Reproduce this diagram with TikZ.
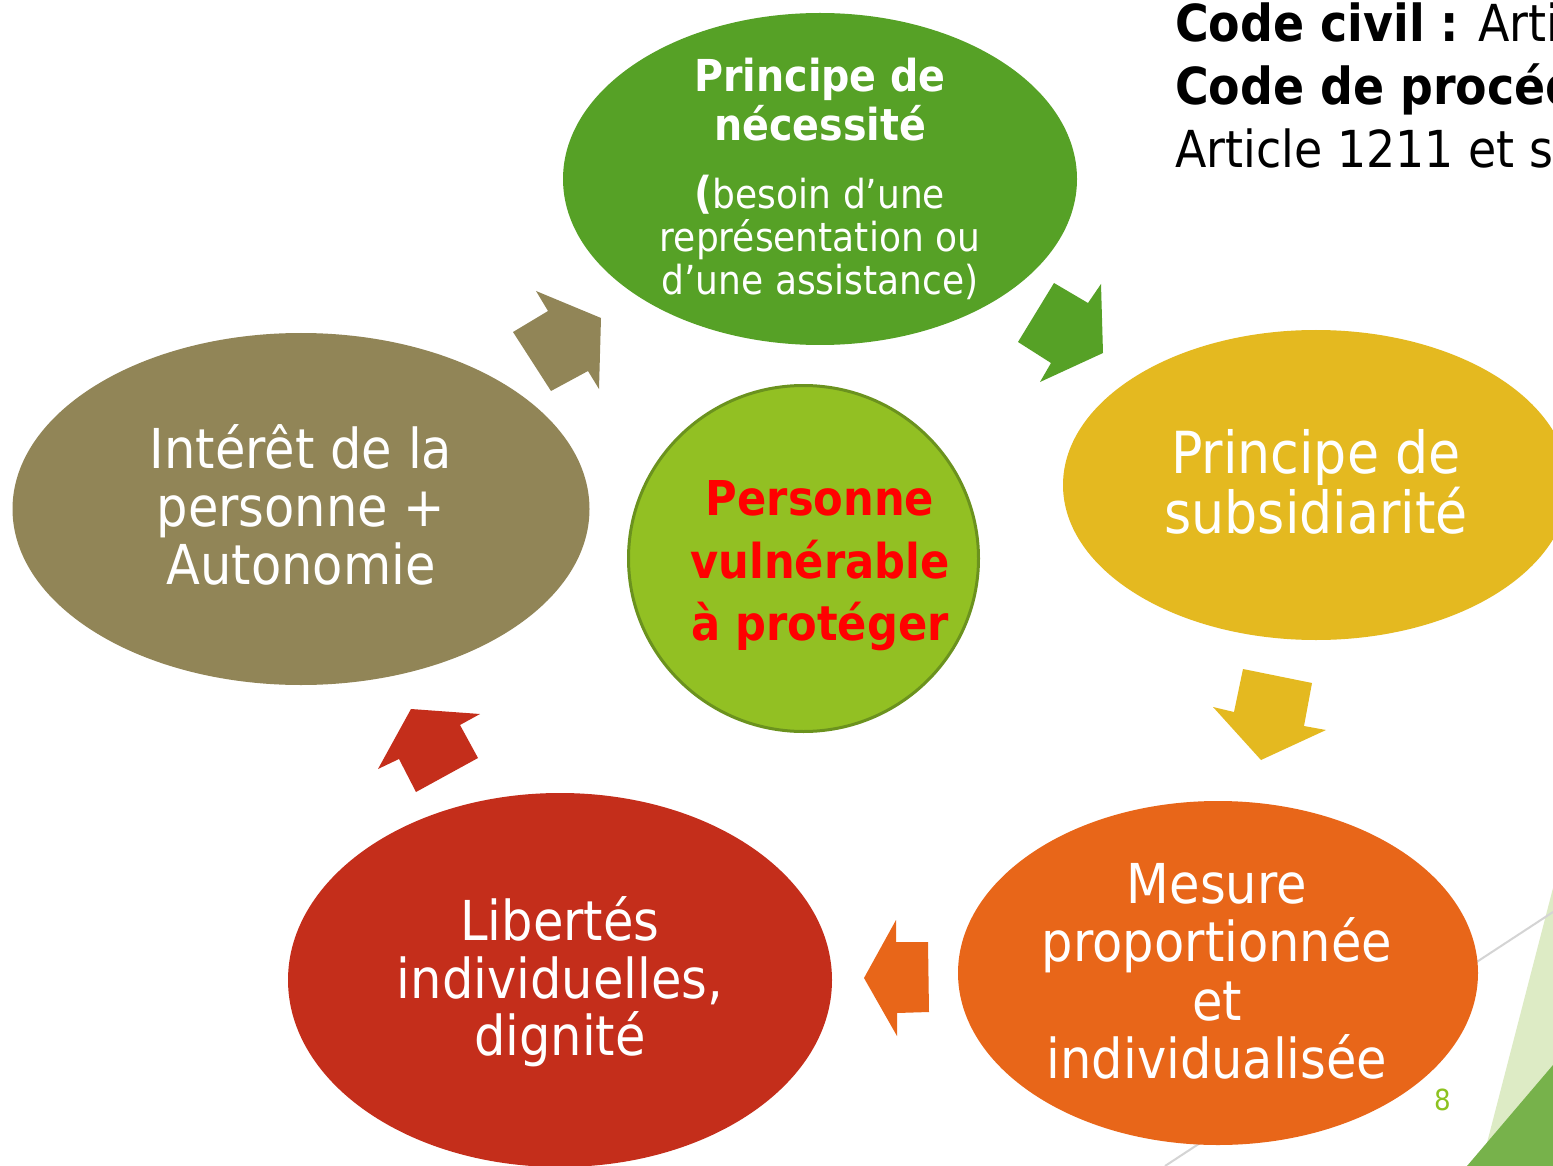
\documentclass[tikz,border=0pt]{standalone}
\usepackage{fontspec}
\setmainfont{DejaVu Sans}[FakeStretch=0.9]
\usetikzlibrary{shapes.geometric}
\definecolor{cNec}{RGB}{86,161,38}
\definecolor{cYel}{RGB}{228,185,32}
\definecolor{cOra}{RGB}{232,102,25}
\definecolor{cRed}{RGB}{196,46,27}
\definecolor{cOli}{RGB}{145,133,87}
\definecolor{cCen}{RGB}{146,192,35}
\definecolor{cCenB}{RGB}{107,146,30}
\definecolor{cNum}{RGB}{141,194,31}
\definecolor{cLight}{RGB}{221,235,197}
\definecolor{cDark}{RGB}{119,178,75}
\definecolor{cGray}{RGB}{212,212,212}
\definecolor{cTxtRed}{RGB}{255,0,0}
\begin{document}
\begin{tikzpicture}[x=1pt,y=-1pt,
  blob/.style={ellipse, inner sep=0pt, draw=none},
  ln/.style={anchor=base, inner sep=0pt, text=white},
  fbig/.style={font=\fontsize{58}{60}\selectfont},
  fmid/.style={font=\fontsize{55}{58}\selectfont},
  fhead/.style={font=\bfseries\fontsize{44}{46}\selectfont},
  fsmall/.style={font=\fontsize{40}{43}\selectfont},
  fcen/.style={font=\bfseries\fontsize{48}{50}\selectfont, text=cTxtRed},
  fref/.style={font=\fontsize{51}{53}\selectfont, anchor=base west, inner sep=0pt, text=black},
  blockarrow/.style={draw=none}
]
\useasboundingbox (0,0) rectangle (1553,1166);
\clip (0,0) rectangle (1553,1166);
\fill[white] (0,0) rectangle (1553,1166);

% decorative corner
\fill[cLight] (1553,888) -- (1553,1166) -- (1481,1166) -- cycle;
\fill[cDark] (1553,1065) -- (1553,1166) -- (1467,1166) -- cycle;
\coordinate (g1) at (1553,912);
\coordinate (g2) at (1165,1166);
\draw[cGray, line width=2pt] (g1) -- (g2);

% ellipses
\node[blob, fill=cNec, minimum width=514pt, minimum height=332pt] (nec) at (820,179) {};
\node[blob, fill=cYel, minimum width=506pt, minimum height=310pt] (sub) at (1316,485) {};
\node[blob, fill=cOra, minimum width=520pt, minimum height=344pt] (mes) at (1218,973) {};
\node[blob, fill=cRed, minimum width=544pt, minimum height=374pt] (lib) at (560,980) {};
\node[blob, fill=cOli, minimum width=577pt, minimum height=352pt] (int) at (301,509) {};
\node[ellipse, fill=cCen, draw=cCenB, line width=3pt, inner sep=0pt,
      minimum width=350pt, minimum height=346pt] (pers) at (803.5,558.5) {};

% block arrows
\fill[cOli, blockarrow] (536,291) -- (548,311) -- (513,332) -- (551,391) -- (588,371) -- (599,389) -- (601,318) -- cycle;
\fill[cNec, blockarrow] (1054,283) -- (1088,303) -- (1101,284) -- (1103,353) -- (1040,382) -- (1051,363) -- (1018,342) -- cycle;
\fill[cYel, blockarrow] (1243,669) -- (1312,683) -- (1304,726) -- (1326,730) -- (1261,760) -- (1213,707) -- (1234,712) -- cycle;
\fill[cOra, blockarrow] (896,920) -- (896,942) -- (928,942) -- (929,1012) -- (897,1013) -- (897,1036) -- (864,978) -- cycle;
\fill[cRed, blockarrow] (411,709) -- (480,714) -- (460,725) -- (478,758) -- (416,792) -- (399,759) -- (378,769) -- cycle;

% texts: necessity
\node[ln, fhead] (nec1) at (820,92) {Principe de};
\node[ln, fhead] (nec2) at (820,141) {nécessité};
\node[ln, fsmall] (nec3) at (820,209) {{\bfseries\fontsize{44}{46}\selectfont(}besoin d’une};
\node[ln, fsmall] (nec4) at (820,252) {représentation ou};
\node[ln, fsmall] (nec5) at (820,295) {d’une assistance)};

% subsidiarity
\node[ln, fbig] (sub1) at (1316,473) {Principe de};
\node[ln, fbig] (sub2) at (1316,533) {subsidiarité};

% measure
\node[ln, fmid] (mes1) at (1217,903) {Mesure};
\node[ln, fmid] (mes2) at (1217,961) {proportionnée};
\node[ln, fmid] (mes3) at (1217,1020) {et};
\node[ln, fmid] (mes4) at (1217,1078) {individualisée};

% liberties
\node[ln, fmid] (lib1) at (560,940) {Libertés};
\node[ln, fmid] (lib2) at (560,998) {individuelles,};
\node[ln, fmid] (lib3) at (560,1055) {dignité};

% interest
\node[ln, fmid] (int1) at (301,468) {Intérêt de la};
\node[ln, fmid] (int2) at (301,526) {personne +};
\node[ln, fmid] (int3) at (301,584) {Autonomie};

% center
\node[ln, fcen] (pers1) at (820,515) {Personne};
\node[ln, fcen] (pers2) at (820,578) {vulnérable};
\node[ln, fcen] (pers3) at (820,640) {à protéger};

% references top right (cut off at the right edge, as in the slide)
\node[fref] (ref1) at (1175,42) {{\bfseries Code civil :} Arti};
\node[fref] (ref2) at (1175,105) {\bfseries Code de procéd};
\node[fref] (ref3) at (1175,168) {Article 1211 et s};

% page number
\node[anchor=base, inner sep=0pt, text=cNum, font=\fontsize{29}{30}\selectfont] (pg) at (1443,1110) {8};
\end{tikzpicture}
\end{document}
